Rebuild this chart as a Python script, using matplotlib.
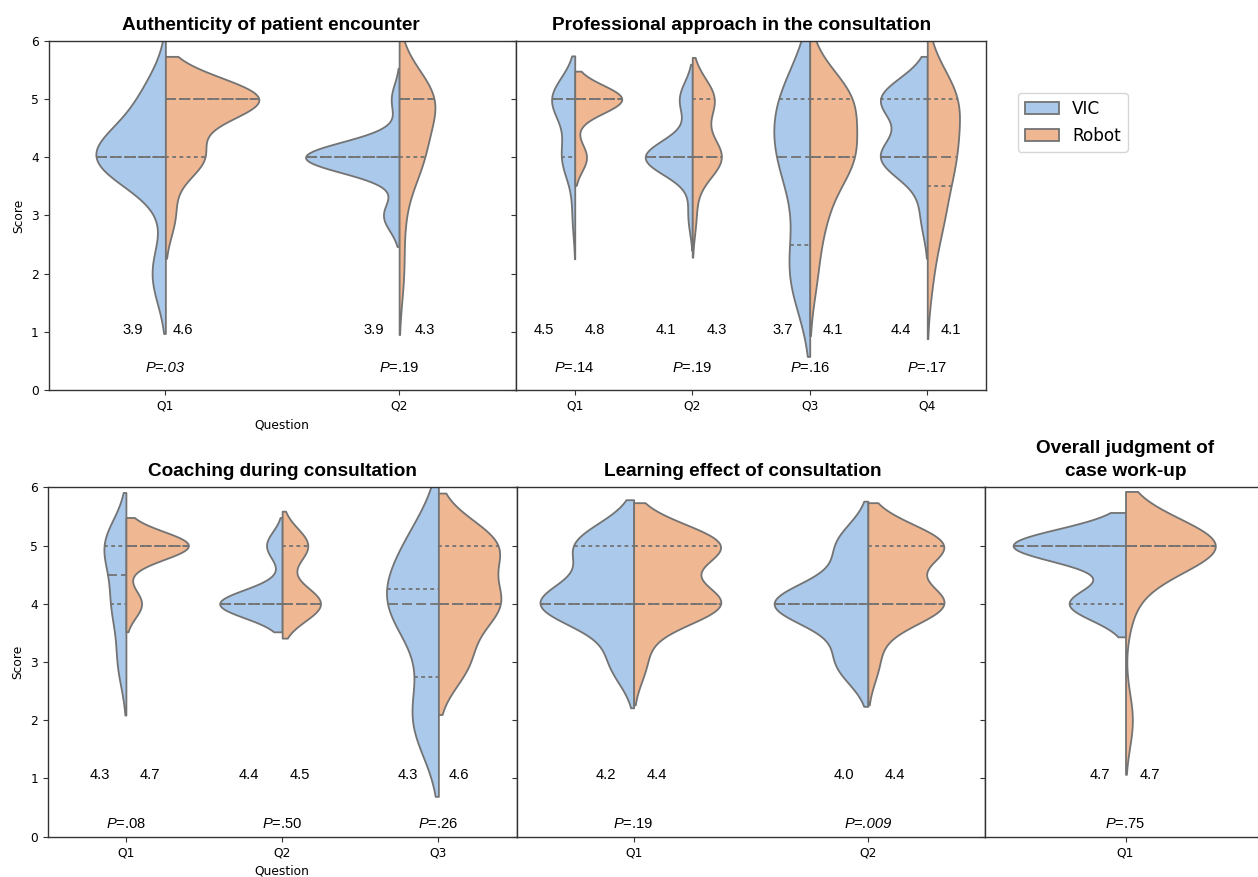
import numpy as np
import pandas as pd
import matplotlib
matplotlib.use("Agg")
import matplotlib.pyplot as plt
import seaborn as sns
from matplotlib.patches import Patch

plt.rcParams['mathtext.fontset'] = 'custom'
plt.rcParams['mathtext.rm'] = 'Liberation Sans'
plt.rcParams['mathtext.it'] = 'Liberation Sans:italic'

# ---------------- data ----------------
scores = [1, 2, 3, 4, 5]
groups = ["VIC", "Robot"]

# counts of answers per score (1..5) for each question
auth_questions = ["Q1", "Q2"]
auth_vic = [[0, 2, 0, 10, 3], [0, 0, 2, 12, 1]]
auth_robot = [[0, 0, 1, 4, 10], [0, 1, 1, 5, 8]]
auth_vic_mean = ["3.9", "3.9"]
auth_robot_mean = ["4.6", "4.3"]
auth_p = [".03", ".19"]
auth_sig = [True, False]

prof_questions = ["Q1", "Q2", "Q3", "Q4"]
prof_vic = [[0, 0, 1, 5, 9], [0, 0, 1, 11, 3], [0, 4, 1, 5, 5], [0, 0, 1, 7, 7]]
prof_robot = [[0, 0, 0, 3, 12], [0, 0, 1, 8, 6], [0, 1, 2, 6, 6], [0, 1, 3, 5, 6]]
prof_vic_mean = ["4.5", "4.1", "3.7", "4.4"]
prof_robot_mean = ["4.8", "4.3", "4.1", "4.1"]
prof_p = [".14", ".19", ".16", ".17"]
prof_sig = [False, False, False, False]

coach_questions = ["Q1", "Q2", "Q3"]
coach_vic = [[0, 0, 3, 5, 8], [0, 0, 0, 12, 3], [0, 4, 1, 7, 4]]
coach_robot = [[0, 0, 0, 3, 12], [0, 0, 0, 9, 6], [0, 0, 3, 6, 6]]
coach_vic_mean = ["4.3", "4.4", "4.3"]
coach_robot_mean = ["4.7", "4.5", "4.6"]
coach_p = [".08", ".50", ".26"]
coach_sig = [False, False, False]

learn_questions = ["Q1", "Q2"]
learn_vic = [[0, 0, 2, 8, 5], [0, 0, 3, 9, 3]]
learn_robot = [[0, 0, 1, 7, 7], [0, 0, 1, 7, 7]]
learn_vic_mean = ["4.2", "4.0"]
learn_robot_mean = ["4.4", "4.4"]
learn_p = [".19", ".009"]
learn_sig = [False, True]

overall_questions = ["Q1"]
overall_vic = [[0, 0, 0, 5, 10]]
overall_robot = [[0, 1, 0, 1, 13]]
overall_vic_mean = ["4.7"]
overall_robot_mean = ["4.7"]
overall_p = [".75"]
overall_sig = [False]

titles = ["Authenticity of patient encounter",
          "Professional approach in the consultation",
          "Coaching during consultation",
          "Learning effect of consultation",
          "Overall judgment of\ncase work-up"]

# ---------------- layout (pixels) ----------------
W, H = 1258, 877
fig = plt.figure(figsize=(W / 100, H / 100), dpi=100)


def box(l, t, r, b):
    return [l / W, 1 - b / H, (r - l) / W, (b - t) / H]


ax1 = fig.add_axes(box(48.5, 41, 516, 390))
ax2 = fig.add_axes(box(516, 41, 986, 390))
ax3 = fig.add_axes(box(47.8, 487.3, 516.5, 836.7))
ax4 = fig.add_axes(box(516.5, 487.3, 985, 836.7))
ax5 = fig.add_axes(box(985, 487.3, 1266, 836.7))

label_off = {
    1: ([-32.7, -25], [17.6, 26]),
    2: ([-31, -26, -26.7, -26.7], [20, 24.7, 23.3, 24]),
    3: ([-26.3, -33.3, -30.4], [24, 18, 20.3]),
    4: ([-27.8, -23.9], [22.7, 26.8]),
    5: ([-25.7], [24.3]),
}
title_x = {1: 0.476, 2: 0.48, 3: 0.501, 4: 0.482, 5: 0.5}

panels = [
    (1, ax1, auth_questions, auth_vic, auth_robot, auth_vic_mean, auth_robot_mean, auth_p, auth_sig, True, 1.03, 0.38),
    (2, ax2, prof_questions, prof_vic, prof_robot, prof_vic_mean, prof_robot_mean, prof_p, prof_sig, False, 1.03, 0.38),
    (3, ax3, coach_questions, coach_vic, coach_robot, coach_vic_mean, coach_robot_mean, coach_p, coach_sig, True, 1.06, 0.21),
    (4, ax4, learn_questions, learn_vic, learn_robot, learn_vic_mean, learn_robot_mean, learn_p, learn_sig, False, 1.06, 0.21),
    (5, ax5, overall_questions, overall_vic, overall_robot, overall_vic_mean, overall_robot_mean, overall_p, overall_sig, False, 1.06, 0.21),
]

ann_font = dict(family='Liberation Sans', fontsize=10.6)
LW = 1.3

for idx, ax, qs, vic, rob, vmean, rmean, pvals, sig, first, ynum, yp in panels:
    frames = []
    for q, cv, cr in zip(qs, vic, rob):
        for g, c in ((groups[0], cv), (groups[1], cr)):
            frames.append(pd.DataFrame({"Question": q, "Group": g,
                                        "Score": np.repeat(scores, c).astype(float)}))
    df = pd.concat(frames, ignore_index=True)
    for q in qs:
        sub = df[df["Question"] == q]
        sns.violinplot(data=sub, x="Question", y="Score", hue="Group",
                       order=qs, hue_order=groups, split=True, inner="quart",
                       palette="pastel", density_norm="area", common_norm=True,
                       cut=2, ax=ax, legend=False, linewidth=LW,
                       inner_kws=dict(linewidth=LW))
    # quartile line styles: median long dashes, quartiles short dashes
    for k, line in enumerate(ax.lines):
        line.set_linewidth(LW)
        if k % 3 == 1:
            line.set_dashes((5.5, 2.3))
        else:
            line.set_dashes((2.1, 1.9))
    ax.set_ylim(0, 6)
    ax.set_xlim(-0.5, len(qs) - 0.5)
    ax.set_yticks(range(0, 7))
    ax.tick_params(labelsize=8.8, color='0.2')
    if first:
        ax.set_ylabel("Score", fontsize=8.8)
        ax.set_xlabel("Question", fontsize=8.8)
    else:
        ax.set_ylabel("")
        ax.set_xlabel("")
        ax.set_yticklabels([])
    for sp in ax.spines.values():
        sp.set_visible(True)
        sp.set_color('0.2')
        sp.set_linewidth(1.0)
    ax.set_title(titles[idx - 1], x=title_x[idx], fontsize=13.7, fontweight='bold',
                 family='Liberation Sans', pad=8.0, linespacing=1.5)
    loffs, roffs = label_off[idx]
    for i in range(len(qs)):
        ax.annotate(vmean[i], xy=(i, ynum), xytext=(loffs[i] * 0.72, 0),
                    textcoords='offset points', ha='center', va='center', **ann_font)
        ax.annotate(rmean[i], xy=(i, ynum), xytext=(roffs[i] * 0.72, 0),
                    textcoords='offset points', ha='center', va='center', **ann_font)
        if sig[i]:
            ax.text(i, yp, "P=" + pvals[i], ha='center', va='center',
                    style='italic', **ann_font)
        else:
            ax.text(i, yp, "$P$=" + pvals[i], ha='center', va='center', **ann_font)

pal = sns.color_palette("pastel")
cols = [sns.desaturate(pal[0], .75), sns.desaturate(pal[1], .75)]
edge = ax1.collections[0].get_edgecolor()[0] if len(ax1.collections) else '0.3'
handles = [Patch(facecolor=cols[0], edgecolor=edge, linewidth=LW),
           Patch(facecolor=cols[1], edgecolor=edge, linewidth=LW)]
fig.legend(handles, groups, loc='upper left', bbox_to_anchor=(1018 / W, 1 - 93 / H),
           fontsize=12.2, borderaxespad=0, labelspacing=0.55)

fig.savefig("out.png", dpi=100)
